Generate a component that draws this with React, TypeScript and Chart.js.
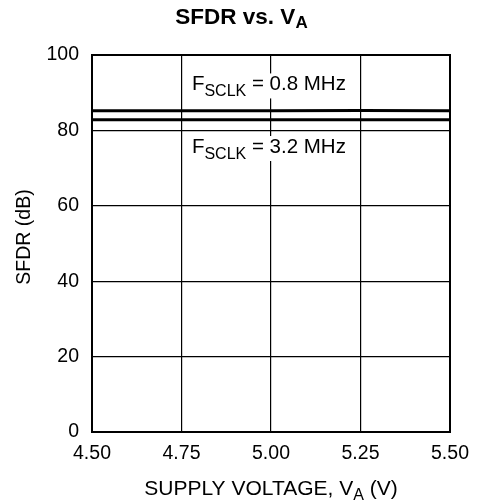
import React, { useEffect, useRef } from 'react';
import { Chart, registerables } from 'chart.js';

Chart.register(...registerables);

// ---- data ----
const supplyVoltage = [4.5, 4.75, 5.0, 5.25, 5.5];
const sfdrSclk08 = [85.2, 85.2, 85.2, 85.3, 85.2];
const sfdrSclk32 = [82.8, 82.8, 82.8, 82.8, 82.8];
const xTickValues = [4.5, 4.75, 5.0, 5.25, 5.5];
const yTickValues = [0, 20, 40, 60, 80, 100];
const seriesNames = ['0.8 MHz', '3.2 MHz'];

const FONT = '"Liberation Sans", Arial, Helvetica, sans-serif';
const W = 482;
const H = 502;

type Part = { text: string; size: number; bold?: boolean; dy?: number };

function fontOf(p: Part) {
  return `${p.bold ? 'bold ' : ''}${p.size}px ${FONT}`;
}

function measureParts(ctx: CanvasRenderingContext2D, parts: Part[]) {
  let w = 0;
  for (const p of parts) {
    ctx.font = fontOf(p);
    w += ctx.measureText(p.text).width;
  }
  return w;
}

function drawParts(ctx: CanvasRenderingContext2D, parts: Part[], x: number, y: number) {
  let cx = x;
  ctx.textAlign = 'left';
  ctx.textBaseline = 'alphabetic';
  for (const p of parts) {
    ctx.font = fontOf(p);
    ctx.fillText(p.text, cx, y + (p.dy || 0));
    cx += ctx.measureText(p.text).width;
  }
}

const decorPlugin = {
  id: 'decor',
  afterDatasetsDraw(chart: any) {
    const ctx: CanvasRenderingContext2D = chart.ctx;
    const xs = chart.scales.x;
    const ys = chart.scales.y;
    const area = chart.chartArea;
    ctx.save();
    ctx.fillStyle = '#000';

    // annotation labels
    const anchors = [
      { x: 4.779, y: 90.6, name: seriesNames[0] },
      { x: 4.779, y: 74.0, name: seriesNames[1] },
    ];
    for (const a of anchors) {
      const parts: Part[] = [
        { text: 'F', size: 20.5 },
        { text: 'SCLK', size: 16, dy: 6 },
        { text: ' = ' + a.name, size: 20.5 },
      ];
      const px = xs.getPixelForValue(a.x);
      const py = ys.getPixelForValue(a.y);
      const w = measureParts(ctx, parts);
      ctx.fillStyle = '#fff';
      ctx.fillRect(px - 2, py - 17, w + 4, 25);
      ctx.fillStyle = '#000';
      drawParts(ctx, parts, px, py);
    }

    // frame
    ctx.strokeStyle = '#000';
    ctx.lineWidth = 2;
    ctx.strokeRect(area.left, area.top, area.right - area.left, area.bottom - area.top);

    // title
    const title: Part[] = [
      { text: 'SFDR vs. V', size: 22.5, bold: true },
      { text: 'A', size: 17, bold: true, dy: 4 },
    ];
    const tw = measureParts(ctx, title);
    drawParts(ctx, title, W / 2 - tw / 2 + 0.5, 24);

    // x axis title
    const xt: Part[] = [
      { text: 'SUPPLY VOLTAGE, V', size: 21 },
      { text: 'A', size: 16, dy: 5 },
      { text: ' (V)', size: 21 },
    ];
    const xw = measureParts(ctx, xt);
    drawParts(ctx, xt, (area.left + area.right) / 2 - xw / 2, 495);

    // y axis title
    ctx.translate(25, 237);
    ctx.rotate(-Math.PI / 2);
    ctx.font = `19.5px ${FONT}`;
    ctx.textAlign = 'center';
    ctx.textBaseline = 'middle';
    ctx.fillText('SFDR (dB)', 0, 0);
    ctx.restore();
  },
};

export default function App() {
  const ref = useRef<HTMLCanvasElement>(null);
  useEffect(() => {
    document.body.style.margin = '0';
    const canvas = ref.current!;
    const chart = new Chart(canvas, {
      type: 'line',
      data: {
        datasets: [
          {
            label: seriesNames[0],
            data: supplyVoltage.map((v, i) => ({ x: v, y: sfdrSclk08[i] })),
            borderColor: '#000',
            borderWidth: 3,
            pointRadius: 0,
            tension: 0,
          },
          {
            label: seriesNames[1],
            data: supplyVoltage.map((v, i) => ({ x: v, y: sfdrSclk32[i] })),
            borderColor: '#000',
            borderWidth: 3,
            pointRadius: 0,
            tension: 0,
          },
        ],
      },
      options: {
        responsive: false,
        animation: false,
        devicePixelRatio: 1,
        layout: { padding: { top: 55, right: 32, left: 0, bottom: 0 } },
        plugins: {
          legend: { display: false },
          title: { display: false },
          tooltip: { enabled: false },
        },
        scales: {
          x: {
            type: 'linear',
            min: 4.5,
            max: 5.5,
            afterBuildTicks: (s: any) => {
              s.ticks = xTickValues.map((v) => ({ value: v }));
            },
            afterFit: (s: any) => {
              s.height = 70;
            },
            ticks: {
              color: '#000',
              font: { family: FONT, size: 19.5 },
              padding: 10,
              maxRotation: 0,
              autoSkip: false,
              callback: (v: any) => Number(v).toFixed(2),
            },
            grid: { color: '#000', lineWidth: 1.2, drawTicks: false, tickLength: 0 },
            border: { display: true, color: '#000', width: 2 },
          },
          y: {
            type: 'linear',
            min: 0,
            max: 100,
            afterBuildTicks: (s: any) => {
              s.ticks = yTickValues.map((v) => ({ value: v }));
            },
            afterFit: (s: any) => {
              s.width = 92;
            },
            ticks: {
              color: '#000',
              font: { family: FONT, size: 19.5 },
              padding: 13,
              autoSkip: false,
            },
            grid: { color: '#000', lineWidth: 1.2, drawTicks: false, tickLength: 0 },
            border: { display: true, color: '#000', width: 2 },
          },
        },
      },
      plugins: [decorPlugin],
    } as any);
    return () => chart.destroy();
  }, []);
  return (
    <div style={{ position: 'absolute', left: 0, top: 0, width: W, height: H, background: '#fff' }}>
      <canvas ref={ref} width={W} height={H} style={{ width: W, height: H, display: 'block' }} />
    </div>
  );
}
